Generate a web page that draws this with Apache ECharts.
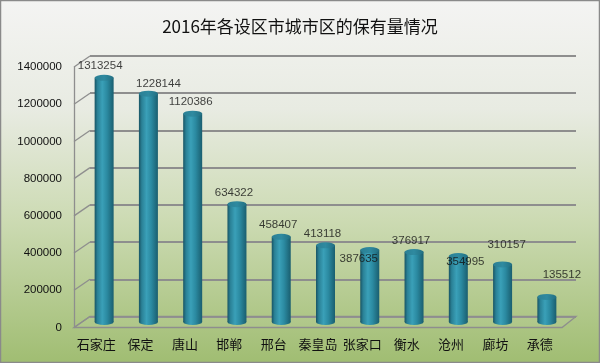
<!DOCTYPE html>
<html>
<head>
<meta charset="utf-8">
<script src="https://cdn.jsdelivr.net/npm/echarts@6/dist/echarts.min.js"></script>
<style>html,body{margin:0;padding:0;}#c{width:600px;height:363px;}</style>
</head>
<body>
<div id="c"></div>
<script>
const titleText = '2016年各设区市城市区的保有量情况';
const categories = ['石家庄','保定','唐山','邯郸','邢台','秦皇岛','张家口','衡水','沧州','廊坊','承德'];
const values = [1313254,1228144,1120386,634322,458407,413118,387635,376917,354995,310157,135512];
const yTickValues = [0,200000,400000,600000,800000,1000000,1200000,1400000];
const labelOffsets = [[-4,0],[10,2],[-2,0],[-3,0],[-3,0],[-3,0],[-11,20],[-3,0],[7,17],[4,-8],[15,-10]];

const chart = echarts.init(document.getElementById('c'));
const yMax = yTickValues[yTickValues.length-1];
const yStep = yTickValues[1]-yTickValues[0];
const numFont = 'Liberation Sans, Arial, sans-serif';
const cjkFont = 'Noto Sans CJK SC, sans-serif';
const gridGray = '#8e8e8e';

const barGrad = new echarts.graphic.LinearGradient(0,0,1,0,[
  {offset:0,color:'#185464'},
  {offset:0.15,color:'#2a8196'},
  {offset:0.4,color:'#3aa0b8'},
  {offset:0.65,color:'#2b8aa1'},
  {offset:1,color:'#1a5e6f'}
]);
const topGrad = new echarts.graphic.LinearGradient(0,0,1,0,[
  {offset:0,color:'#2a7f94'},
  {offset:0.5,color:'#2f8aa0'},
  {offset:1,color:'#226f82'}
]);

function renderWall(params, api){
  const v = api.value(1);
  const p = api.coord([0, v]);
  const band = api.size([1,0])[0];
  const x0 = p[0] - band/2;
  const children = [{
    type:'line',
    shape:{x1:x0,y1:p[1],x2:x0+16,y2:p[1]-11},
    style:{stroke:gridGray,lineWidth:1.3}
  }];
  if (v === 0) {
    const xr = api.coord([categories.length-1, 0])[0] + band/2;
    children.push({
      type:'polygon',
      shape:{points:[[x0,p[1]],[xr,p[1]],[xr+14,p[1]-11],[x0+16,p[1]-11]]},
      style:{fill:'rgba(255,255,255,0.05)',stroke:gridGray,lineWidth:1.3}
    });
  }
  return {type:'group',children};
}

const option = {
  backgroundColor: new echarts.graphic.LinearGradient(0,0,0,1,[
    {offset:0,color:'#f4f4f3'},
    {offset:0.3,color:'#e8ebe2'},
    {offset:0.6,color:'#cddbb4'},
    {offset:1,color:'#a0bd72'}
  ]),
  animation:false,
  title:{
    text:titleText,left:'center',top:13,
    textStyle:{fontFamily:cjkFont,fontSize:17,fontWeight:'normal',color:'#111'}
  },
  graphic:[{
    type:'rect',z:100,silent:true,
    shape:{x:0.5,y:0.5,width:599,height:362},
    style:{fill:'none',stroke:'#8a8a8a',lineWidth:1.5}
  }],
  grid:[
    {left:90,right:24,top:56,bottom:46.5},
    {left:74,right:38,top:67,bottom:35.5},
    {left:82,right:31,top:61.5,bottom:41}
  ],
  xAxis:[
    {gridIndex:0,type:'category',data:categories,show:false},
    {gridIndex:1,type:'category',data:categories,
      axisLine:{show:false},axisTick:{show:false},
      axisLabel:{interval:0,margin:10,fontFamily:cjkFont,fontSize:13,color:'#111'}},
    {gridIndex:2,type:'category',data:categories,show:false}
  ],
  yAxis:[
    {gridIndex:0,type:'value',min:0,max:yMax,interval:yStep,
      axisLine:{show:false},axisTick:{show:false},axisLabel:{show:false},
      splitLine:{show:true,lineStyle:{color:gridGray,width:2}}},
    {gridIndex:1,type:'value',min:0,max:yMax,interval:yStep,
      axisLine:{show:true,lineStyle:{color:gridGray,width:1.3}},axisTick:{show:false},
      splitLine:{show:false},
      axisLabel:{margin:12,formatter:v=>String(v),fontFamily:numFont,fontSize:11.5,color:'#111'}},
    {gridIndex:2,type:'value',min:0,max:yMax,show:false,splitLine:{show:false}}
  ],
  series:[
    {type:'custom',xAxisIndex:1,yAxisIndex:1,clip:false,z:1,silent:true,
      renderItem:renderWall,encode:{x:0,y:1},
      data:yTickValues.map(v=>[0,v])},
    {type:'pictorialBar',xAxisIndex:2,yAxisIndex:2,z:2,
      symbol:'circle',symbolSize:[19,6],symbolOffset:[0,'50%'],
      barGap:'-100%',itemStyle:{color:barGrad},data:values},
    {type:'bar',xAxisIndex:2,yAxisIndex:2,z:3,barWidth:19,
      itemStyle:{color:barGrad},data:values},
    {type:'pictorialBar',xAxisIndex:2,yAxisIndex:2,z:4,
      symbol:'circle',symbolSize:[19,6],symbolPosition:'end',symbolOffset:[0,'-50%'],
      barGap:'-100%',
      itemStyle:{color:topGrad,borderColor:'#3d9cb2',borderWidth:0.6},data:values},
    {type:'scatter',xAxisIndex:2,yAxisIndex:2,z:10,symbolSize:1,
      itemStyle:{color:'rgba(0,0,0,0)'},
      data:values.map((v,i)=>({value:[i,v],label:{offset:labelOffsets[i]}})),
      label:{show:true,position:'top',distance:5,
        formatter:p=>String(p.value[1]),
        fontFamily:numFont,fontSize:11.5,color:'#111'}}
  ]
};
chart.setOption(option);
</script>
</body>
</html>
